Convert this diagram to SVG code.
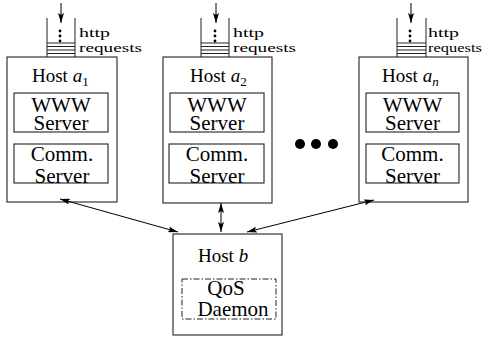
<svg xmlns="http://www.w3.org/2000/svg" width="492" height="337" viewBox="0 0 492 337">
<defs>
<style>
.box{fill:none;stroke:#222;stroke-width:1.1}
.q{fill:none;stroke:#222;stroke-width:1}
.t{font-family:"Liberation Serif",serif;fill:#000}
.host{font-size:19px}
.srv{font-size:21px;text-anchor:middle}
.small{font-size:13.5px}
.conn{fill:none;stroke:#000;stroke-width:1}
.dash{fill:none;stroke:#222;stroke-width:1;stroke-dasharray:6 2 1.5 2}
</style>
<marker id="ah" viewBox="0 0 10 6" refX="10" refY="3" markerWidth="10" markerHeight="6" markerUnits="userSpaceOnUse" orient="auto-start-reverse">
<path d="M0,0 L10,3 L0,6 L2,3 Z" fill="#000"/>
</marker>
<marker id="qa" viewBox="0 0 6 10" refX="3" refY="10" markerWidth="6" markerHeight="10" markerUnits="userSpaceOnUse" orient="0">
<path d="M0,0 L3,10 L6,0 L3,2 Z" fill="#000"/>
</marker>
</defs>

<g id="host-a1">
<path class="q" d="M47,18 V57 M75,18 V57 M47,43 H75 M47,46.5 H75 M47,50 H75 M47,53.5 H75"/>
<line class="conn" x1="61" y1="3" x2="61" y2="23" marker-end="url(#qa)"/>
<circle cx="60" cy="31" r="1.4"/><circle cx="60" cy="36" r="1.4"/><circle cx="60" cy="41" r="1.4"/>
<text class="t small" x="79" y="37" textLength="31" lengthAdjust="spacingAndGlyphs">http</text>
<text class="t small" x="79" y="52" textLength="63" lengthAdjust="spacingAndGlyphs">requests</text>
<rect class="box" x="7" y="57" width="110" height="145"/>
<text class="t host" x="32" y="82">Host <tspan font-style="italic">a</tspan><tspan font-size="13" dy="4">1</tspan></text>
<rect class="box" x="14" y="93" width="94" height="39"/>
<text class="t srv" x="61" y="112">WWW</text>
<text class="t srv" x="61" y="130">Server</text>
<rect class="box" x="14" y="144" width="94" height="39"/>
<text class="t srv" x="62" y="161">Comm.</text>
<text class="t srv" x="62" y="183">Server</text>
</g>

<g id="host-a2">
<path class="q" d="M201,18 V57 M229,18 V57 M201,43 H229 M201,46.5 H229 M201,50 H229 M201,53.5 H229"/>
<line class="conn" x1="216" y1="3" x2="216" y2="23" marker-end="url(#qa)"/>
<circle cx="215" cy="31" r="1.4"/><circle cx="215" cy="36" r="1.4"/><circle cx="215" cy="41" r="1.4"/>
<text class="t small" x="233" y="37" textLength="31" lengthAdjust="spacingAndGlyphs">http</text>
<text class="t small" x="233" y="52" textLength="63" lengthAdjust="spacingAndGlyphs">requests</text>
<rect class="box" x="163" y="57" width="109" height="146"/>
<text class="t host" x="190" y="82">Host <tspan font-style="italic">a</tspan><tspan font-size="13" dy="4">2</tspan></text>
<rect class="box" x="170" y="93" width="94" height="39"/>
<text class="t srv" x="217" y="112">WWW</text>
<text class="t srv" x="217" y="130">Server</text>
<rect class="box" x="169" y="144" width="95" height="39"/>
<text class="t srv" x="217" y="161">Comm.</text>
<text class="t srv" x="217" y="183">Server</text>
</g>

<g id="ellipsis">
<circle cx="300" cy="144" r="5"/><circle cx="316" cy="144" r="5"/><circle cx="333" cy="144" r="5"/>
</g>

<g id="host-an">
<path class="q" d="M397,18 V57 M426,18 V57 M397,43 H426 M397,46.5 H426 M397,50 H426 M397,53.5 H426"/>
<line class="conn" x1="411" y1="3" x2="411" y2="23" marker-end="url(#qa)"/>
<circle cx="410" cy="31" r="1.4"/><circle cx="410" cy="36" r="1.4"/><circle cx="410" cy="41" r="1.4"/>
<text class="t small" x="428" y="37" textLength="31" lengthAdjust="spacingAndGlyphs">http</text>
<text class="t small" x="428" y="52" textLength="54" lengthAdjust="spacingAndGlyphs">requests</text>
<rect class="box" x="359" y="57" width="109" height="145"/>
<text class="t host" x="382" y="82">Host <tspan font-style="italic">a</tspan><tspan font-size="13" font-style="italic" dy="4">n</tspan></text>
<rect class="box" x="366" y="93" width="93" height="39"/>
<text class="t srv" x="412.5" y="112">WWW</text>
<text class="t srv" x="412.5" y="130">Server</text>
<rect class="box" x="366" y="144" width="93" height="39"/>
<text class="t srv" x="412.5" y="161">Comm.</text>
<text class="t srv" x="412.5" y="183">Server</text>
</g>

<g id="host-b">
<rect class="box" x="173" y="234" width="109" height="101"/>
<text class="t host" x="198" y="262">Host <tspan font-style="italic">b</tspan></text>
<rect class="dash" x="182" y="279" width="94" height="40"/>
<text class="t srv" x="226" y="295" font-size="20">QoS</text>
<text class="t srv" x="233" y="316">Daemon</text>
</g>

<g id="connectors">
<line class="conn" x1="60" y1="199" x2="178" y2="232" marker-start="url(#ah)" marker-end="url(#ah)"/>
<line class="conn" x1="221" y1="203" x2="221" y2="232" marker-start="url(#ah)" marker-end="url(#ah)"/>
<line class="conn" x1="374" y1="200" x2="247" y2="232" marker-start="url(#ah)" marker-end="url(#ah)"/>
</g>
</svg>
